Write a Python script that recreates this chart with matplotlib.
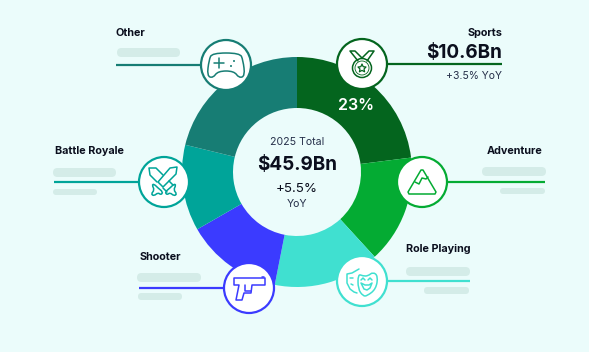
import matplotlib
matplotlib.use("Agg")
import matplotlib.pyplot as plt
from matplotlib.patches import Circle, FancyBboxPatch, PathPatch, Polygon
from matplotlib.path import Path

plt.rcParams['font.family'] = ['Inter', 'DejaVu Sans']

W, H = 589, 352
BG = '#EBFCFB'
BAR = '#D4ECE8'
INK = '#0B0F1E'
ICON_LW = 1.1

categories = ['Sports', 'Adventure', 'Role Playing', 'Shooter', 'Battle Royale', 'Other']
shares = [23.0, 15.2, 14.9, 13.6, 12.1, 21.2]
colors = ['#04651E', '#04AB33', '#40E0D0', '#3B3BFF', '#00A499', '#177D74']
total_label = '$45.9Bn'
total_change = '+5.5%'
sports_value = '$10.6Bn'
sports_change = '+3.5% YoY'
sports_share = '23%'


def y_(py):
    return H - py


fig = plt.figure(figsize=(W / 100, H / 100), dpi=100, facecolor=BG)
ax = fig.add_axes([0, 0, 1, 1])

ax.pie(shares, colors=colors, startangle=90, counterclock=False,
       center=(297, y_(172)), radius=115,
       wedgeprops={'width': 51, 'linewidth': 0}, frame=True)
ax.set_xlim(0, W)
ax.set_ylim(0, H)
ax.set_aspect('equal')
ax.axis('off')


def pill(x0, x1, top, bottom):
    h = bottom - top
    ax.add_patch(FancyBboxPatch((x0 + h / 2, y_(bottom) + h / 2), x1 - x0 - h, 0,
                                boxstyle='round,pad=%.1f,rounding_size=%.1f' % (h / 2, h / 2),
                                fc=BAR, ec='none', zorder=2))


def stroke(cx, cy, pts, color, closed=False, lw=ICON_LW):
    xy = [(cx + a, y_(cy + b)) for a, b in pts]
    ax.add_patch(Polygon(xy, closed=closed, fill=False, ec=color, lw=lw,
                         joinstyle='round', capstyle='round', zorder=6))


def blob(cx, cy, pts, color, lw=ICON_LW):
    # closed outline, corners rounded off with quadratic curves
    xy = [(cx + a, y_(cy + b)) for a, b in pts]
    n = len(xy)
    mid = [((xy[i][0] + xy[(i + 1) % n][0]) / 2, (xy[i][1] + xy[(i + 1) % n][1]) / 2) for i in range(n)]
    verts = [mid[-1]]
    codes = [Path.MOVETO]
    for i in range(n):
        verts += [xy[i], mid[i]]
        codes += [Path.CURVE3, Path.CURVE3]
    ax.add_patch(PathPatch(Path(verts, codes), fill=False, ec=color, lw=lw, zorder=6))


def badge(cx, cy, color, x_end):
    ax.plot([cx, x_end], [y_(cy), y_(cy)], color=color, lw=1.6, zorder=3,
            solid_capstyle='butt')
    ax.add_patch(Circle((cx, y_(cy)), 25, fc='white', ec=color, lw=1.6, zorder=5))


def label(x, py, s, ha='left'):
    ax.text(x, y_(py + 0.5), s, ha=ha, va='center', fontsize=7.8, fontweight='bold',
            color=INK, zorder=7)


# Sports
badge(362, 64, colors[0], 502)
label(502, 33, categories[0], 'right')
ax.text(502, y_(53), sports_value, ha='right', va='center', fontsize=13.6,
        fontweight='bold', color=INK)
ax.text(502, y_(76), sports_change, ha='right', va='center', fontsize=7.5, color='#26304A')
stroke(362, 64, [(-4, -3), (-12, -13), (-7, -13), (0, -6), (7, -13), (12, -13), (5, -3)], colors[0])
ax.add_patch(Circle((362, y_(68)), 9.5, fill=False, ec=colors[0], lw=ICON_LW, zorder=6))
ax.add_patch(Circle((362, y_(68)), 7, fill=False, ec=colors[0], lw=0.6, zorder=6))
stroke(362, 68, [(0, -4), (1.2, -1.3), (4, -1), (2, 1), (2.6, 3.8), (0, 2.4), (-2.6, 3.8),
                 (-2, 1), (-4, -1), (-1.2, -1.3)], colors[0], True, 0.9)

# Adventure
badge(422, 182, colors[1], 545)
label(542, 150, categories[1], 'right')
pill(482, 546, 167, 176)
pill(500, 545, 188, 194)
stroke(422, 182, [(-1, -12), (1, -12), (14, 10), (13, 12), (-13, 12), (-14, 10)], colors[1], True)
stroke(422, 182, [(-7, 0), (-3, 2), (0, -4), (4, -3), (6, -5)], colors[1])

# Role Playing
badge(362, 281, colors[2], 470)
label(470, 249, categories[2], 'right')
pill(406, 470, 267, 276)
pill(424, 469, 287, 294)
stroke(362, 281, [(-3, -12), (-10, -8), (-15, -7), (-15, 2), (-12, 8), (-8, 11), (-5, 12)], colors[2])
blob(362, 281, [(-4, -7), (1, -5), (6, -5), (11, -9), (16, -5), (14, 8), (5, 15), (1, 15),
                (-4, 8)], colors[2])
stroke(362, 281, [(-1, 2), (3, 4), (7, 4), (10, 2), (8, 7), (5, 9), (2, 8)], colors[2], True)
stroke(362, 281, [(-1, -1), (1, -3), (3, -1)], colors[2])
stroke(362, 281, [(6, -1), (8, -3), (10, -1)], colors[2])
stroke(362, 281, [(-12, -3), (-9, -3)], colors[2])
stroke(362, 281, [(-11, 3), (-9, 4)], colors[2])

# Shooter
badge(249, 288, colors[3], 139)
label(140, 256, categories[3])
pill(137, 201, 273, 282)
pill(138, 182, 293, 300)
stroke(249, 288, [(-15, -10), (16, -10), (16, -3), (3, -3), (2, 5), (-5, 5), (-7, 12),
                  (-13, 12), (-10, -3), (-15, -3)], colors[3], True)
stroke(249, 288, [(-4, -3), (-4, 3), (2, 3)], colors[3])
stroke(249, 288, [(13, -11.5), (15, -11.5)], colors[3])

# Battle Royale
badge(164, 182, colors[4], 54)
label(55, 150, categories[4])
pill(53, 116, 168, 177)
pill(53, 97, 189, 195)
stroke(164, 182, [(13, -15), (6, -14), (-6, 0), (-1, 5), (12, -8)], colors[4], True)
stroke(164, 182, [(-1, -7), (-8, -14), (-15, -14), (-14, -7), (-7, 0)], colors[4])
stroke(164, 182, [(5, -1), (9, 3)], colors[4])
stroke(164, 182, [(-1, 6), (3, 10)], colors[4])
blob(164, 182, [(-12, 3), (-10, 2), (-6, 6), (-1, 10), (-3, 13), (-6, 10.5), (-10, 14),
                (-13, 12), (-9.5, 8)], colors[4])
blob(164, 182, [(12, 3), (10, 2), (6, 6), (1, 10), (3, 13), (6, 10.5), (10, 14),
                (13, 12), (9.5, 8)], colors[4])

# Other
badge(226, 65, colors[5], 116)
label(116, 33, categories[5])
pill(117, 180, 48, 57)
blob(226, 65, [(-14, -12), (14, -12), (17, -5), (19, 11), (13, 13), (8, 6), (-8, 6), (-13, 13),
               (-19, 11), (-17, -5)], colors[5])
stroke(226, 65, [(-12, -2), (-2, -2)], colors[5])
stroke(226, 65, [(-7, -7), (-7, 3)], colors[5])
ax.add_patch(Circle((234, y_(61)), 1, fc=colors[5], ec='none', zorder=6))
ax.add_patch(Circle((231, y_(66)), 1, fc=colors[5], ec='none', zorder=6))

# centre
ax.text(356, y_(106), sports_share, ha='center', va='center', fontsize=11.5,
        fontweight='semibold', color='white', zorder=4)
ax.text(297, y_(142), '2025 Total', ha='center', va='center', fontsize=7.6, color='#26304A')
ax.text(297, y_(165), total_label, ha='center', va='center', fontsize=13.6,
        fontweight='bold', color=INK)
ax.text(297, y_(189), total_change, ha='center', va='center', fontsize=9.6, color=INK)
ax.text(297, y_(204), 'YoY', ha='center', va='center', fontsize=7.6, color='#26304A')

fig.savefig('out.png', dpi=100, facecolor=BG)
